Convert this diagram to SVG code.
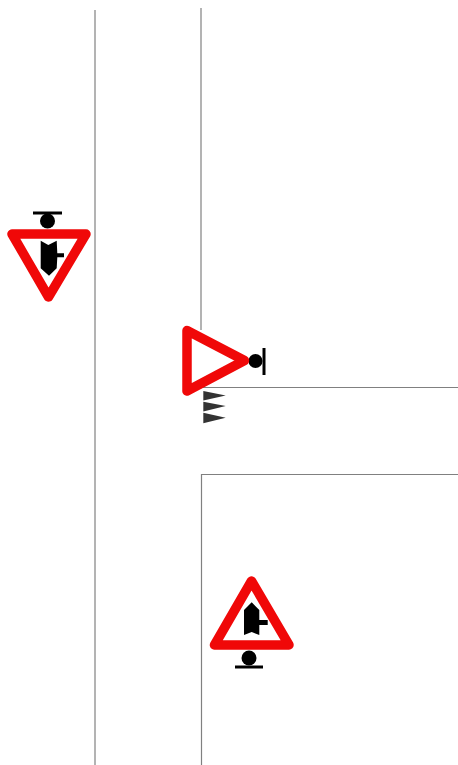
<svg xmlns="http://www.w3.org/2000/svg" width="458" height="765" viewBox="0 0 458 765">
<style>
.road{fill:none;stroke:#808080;stroke-width:1.2}
.sign{fill:#fff;stroke:#f00808;stroke-width:9.500;stroke-linejoin:round}
.bar{fill:none;stroke:#000;stroke-width:3}
.tooth{fill:#333}
</style>
<rect width="458" height="765" fill="#fff"/>
<g id="connectors">
<path class="road" d="M95 10V765"/>
<path class="road" d="M201 8V330"/>
<path class="road" d="M195 387.500H458"/>
<path class="road" d="M458 474.500H201.500V765"/>
</g>
<g id="sign-left">
<path class="bar" d="M33 213H62"/>
<circle cx="47.500" cy="221" r="7.500"/>
<path class="sign" d="M12 234H86L48.500 297Z"/>
<path d="M40.700 240.700L48.300 245L56.700 240.700L57.300 253.300H64V257.300H57.300L56.700 268.300L49 275.700L40.700 268.300Z"/>
</g>
<g id="sign-middle">
<path class="bar" d="M264 348V375"/>
<circle cx="255.500" cy="361" r="7"/>
<path class="sign" d="M187 330.500L244.500 360.500L187 391Z"/>
<path class="tooth" d="M203.300 391L225.700 395.500L203.300 400.500Z"/>
<path class="tooth" d="M203.300 401.700L225.700 406L203.300 411.500Z"/>
<path class="tooth" d="M203.300 412.700L225.700 417.700L203.300 423.300Z"/>
</g>
<g id="sign-bottom">
<path class="bar" d="M235 667H263"/>
<circle cx="249" cy="658" r="7.500"/>
<path class="sign" d="M251.500 581L214.500 645H289Z"/>
<path d="M251.700 602.300L259.300 610V620H267.700V625H259.300V635L251.700 632L244 635V610Z"/>
</g>
</svg>
